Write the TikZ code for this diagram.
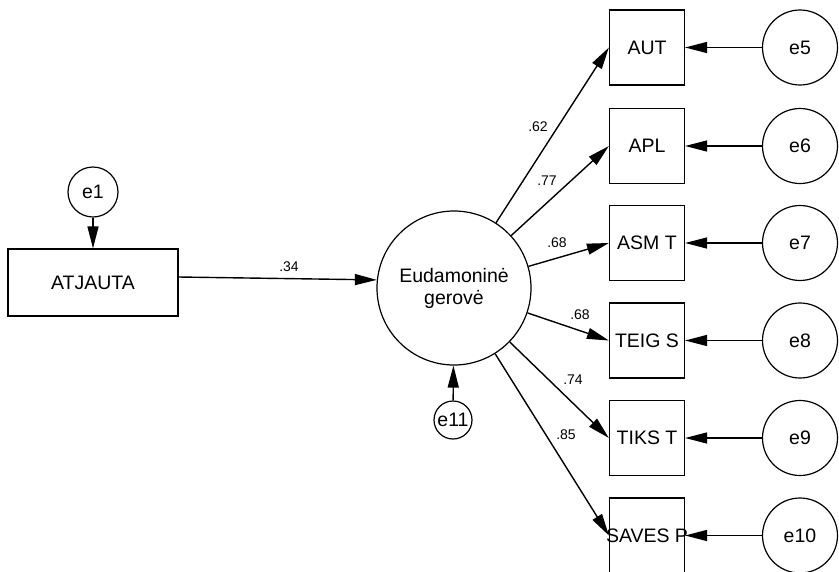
\documentclass[tikz,border=0pt]{standalone}
\usepackage{fontspec}
\setmainfont{Liberation Sans}
\usetikzlibrary{arrows.meta}
\begin{document}
\begin{tikzpicture}[x=1pt,y=-1pt,
  every node/.style={inner sep=0pt, font=\fontsize{19.5}{22}\selectfont},
  obs/.style={draw, line width=1.2pt, rectangle, minimum width=75pt, minimum height=75pt},
  err/.style={draw, line width=1.2pt, circle, minimum size=75pt},
  arr/.style={line width=1.4pt, -{Triangle[length=22pt,width=11pt]}},
  lbl/.style={font=\fontsize{14}{16}\selectfont}]
\useasboundingbox (0,0) rectangle (839,571);
% left side
\node[draw, line width=1.2pt, minimum width=170pt, minimum height=67pt] (atj) at (93,282.5) {ATJAUTA};
\node[draw, line width=1.2pt, circle, minimum size=50pt] (e1) at (93,192) {e1};
% latent
\node[draw, line width=1.2pt, circle, minimum size=154pt, align=center] (eud) at (454,288) {Eudamoninė\\gerovė};
\node[draw, line width=1.2pt, circle, minimum size=38pt] (e11) at (453,420) {e11};
% observed
\node[obs] (aut) at (647,47.5) {AUT};
\node[obs] (apl) at (647,146) {APL};
\node[obs] (asm) at (647,243) {ASM T};
\node[obs] (teig) at (647,340.5) {TEIG S};
\node[obs] (tiks) at (647,438) {TIKS T};
\node[obs] (saves) at (647,535.5) {\makebox[0pt]{SAVES P}};
% errors
\node[err] (e5) at (800,47.5) {e5};
\node[err] (e6) at (800,146) {e6};
\node[err] (e7) at (800,243) {e7};
\node[err] (e8) at (800,340.5) {e8};
\node[err] (e9) at (800,438) {e9};
\node[err] (e10) at (800,535.5) {e10};
% arrows
\draw[arr] (e1) -- (atj);
\draw[arr] ([yshift=5.5pt]atj.east) -- (eud.174.8);
\draw[arr] (e11) -- (eud);
\foreach \b in {aut,apl,asm,teig,tiks,saves}{
  \draw[arr] (eud) -- (\b.west);
}
\foreach \e/\b in {e5/aut,e6/apl,e7/asm,e8/teig,e9/tiks,e10/saves}{
  \draw[arr] (\e) -- (\b);
}
% labels
\node[lbl] (l34) at (289,267) {.34};
\node[lbl] (l62) at (538,127) {.62};
\node[lbl] (l77) at (547,181) {.77};
\node[lbl] (l68a) at (557,243) {.68};
\node[lbl] (l68b) at (580,314.5) {.68};
\node[lbl] (l74) at (573,379.5) {.74};
\node[lbl] (l85) at (566,435) {.85};
\end{tikzpicture}
\end{document}
